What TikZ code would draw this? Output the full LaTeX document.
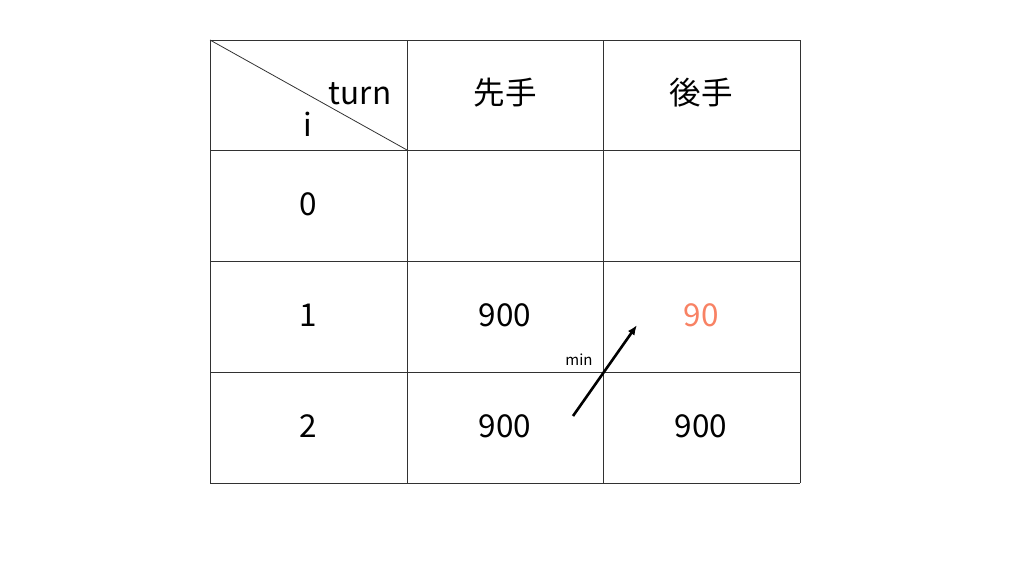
\documentclass[tikz,border=0pt]{standalone}
\usepackage{fontspec}
\setmainfont{Noto Sans CJK JP}
\usepackage{tikz}
\usetikzlibrary{positioning}
\usetikzlibrary{calc}
\usetikzlibrary{arrows.meta}
\definecolor{salmon}{RGB}{248,130,100}
\definecolor{rule}{RGB}{50,50,50}
\tikzset{
	cell/.style={font=\fontsize{31.5}{36}\selectfont, inner sep=0pt},
	small/.style={font=\fontsize{15}{17}\selectfont, inner sep=0pt},
	grid/.style={draw=rule, line width=0.8pt}
}

\begin{document}
\begin{tikzpicture}[x=1pt, y=-1pt]
					\useasboundingbox (0,0) rectangle (1024,576);

					% table frame
					\foreach \y in {40,150,261,372,483} \draw[grid] (210,\y) -- (800,\y);
					\foreach \x in {210,407,603,800} \draw[grid] (\x,40) -- (\x,483);
					\draw[grid] (210,40) -- (407,150);

					% head
					\node[cell] (turn) at (360,94) {turn};
					\node[cell] (i) at (308,124) {i};
					\node[cell] (sente) at (505,93) {先手};
					\node[cell] (gote) at (701,93) {後手};

					% rows
					\node[cell] (r0) at (308,204) {0};
					\node[cell] (r1) at (308,315) {1};
					\node[cell] (r2) at (308,426) {2};
					\node[cell] (s1) at (505,315) {900};
					\node[cell, text=salmon] (g1) at (701,315) {90};
					\node[cell] (s2) at (505,426) {900};
					\node[cell] (g2) at (701,426) {900};

					% min
					\coordinate (from) at (573,416);
					\coordinate (to) at (637,325);
					\draw[-{Latex[length=10pt,width=8pt]}, line width=2.6pt] (from) -- (to);
					\node[small] (min) at (579,360) {min};
\end{tikzpicture}
\end{document}
